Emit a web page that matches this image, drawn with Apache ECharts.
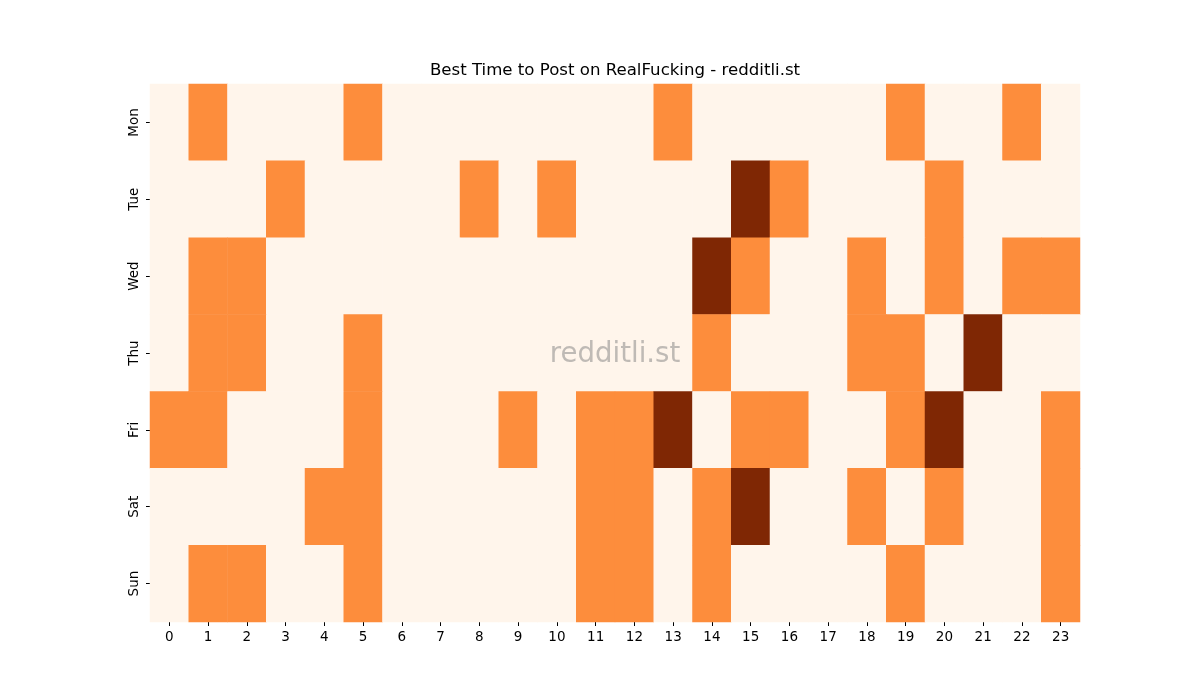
<!DOCTYPE html>
<html>
<head>
<meta charset="utf-8">
<title>Best Time to Post</title>
<script src="https://cdn.jsdelivr.net/npm/echarts@6/dist/echarts.min.js"></script>
<style>
  html, body { margin: 0; padding: 0; background: #fff; }
  #chart { width: 1200px; height: 700px; }
</style>
</head>
<body>
<div id="chart"></div>
<script>
  // rows / columns
  var days = ['Mon', 'Tue', 'Wed', 'Thu', 'Fri', 'Sat', 'Sun'];
  var hours = ['0','1','2','3','4','5','6','7','8','9','10','11','12','13','14','15','16','17','18','19','20','21','22','23'];

  // activity level per hour (0 = low, 1 = mid, 2 = high)
  var mon = [0,1,0,0,0,1,0,0,0,0,0,0,0,1,0,0,0,0,0,1,0,0,1,0];
  var tue = [0,0,0,1,0,0,0,0,1,0,1,0,0,0,0,2,1,0,0,0,1,0,0,0];
  var wed = [0,1,1,0,0,0,0,0,0,0,0,0,0,0,2,1,0,0,1,0,1,0,1,1];
  var thu = [0,1,1,0,0,1,0,0,0,0,0,0,0,0,1,0,0,0,1,1,0,2,0,0];
  var fri = [1,1,0,0,0,1,0,0,0,1,0,1,1,2,0,1,1,0,0,1,2,0,0,1];
  var sat = [0,0,0,0,1,1,0,0,0,0,0,1,1,0,1,2,0,0,1,0,1,0,0,1];
  var sun = [0,1,1,0,0,1,0,0,0,0,0,1,1,0,1,0,0,0,0,1,0,0,0,1];

  var rows = [mon, tue, wed, thu, fri, sat, sun];
  var cells = [];
  rows.forEach(function (row, d) {
    row.forEach(function (v, h) {
      cells.push([h, d, v]);
    });
  });

  var font = 'DejaVu Sans';
  var chart = echarts.init(document.getElementById('chart'));
  chart.setOption({
    animation: false,
    textStyle: { fontFamily: font },
    grid: { left: 150, right: 120, top: 84, bottom: 78 },
    xAxis: {
      type: 'category',
      data: hours,
      axisLine: { show: false },
      axisTick: { show: true, alignWithLabel: true, length: 4, lineStyle: { color: '#000' } },
      axisLabel: { color: '#000', fontSize: 13.5, margin: 8, fontFamily: font },
      splitLine: { show: false }
    },
    yAxis: {
      type: 'category',
      data: days,
      inverse: true,
      axisLine: { show: false },
      axisTick: { show: true, alignWithLabel: true, length: 4, lineStyle: { color: '#000' } },
      axisLabel: { color: '#000', fontSize: 13.5, rotate: 90, margin: 9, fontFamily: font },
      splitLine: { show: false }
    },
    visualMap: {
      type: 'piecewise',
      show: false,
      dimension: 2,
      pieces: [
        { value: 0, color: '#fff5eb' },
        { value: 1, color: '#fd8d3c' },
        { value: 2, color: '#7f2704' }
      ]
    },
    graphic: [{
      type: 'text',
      x: 615,
      y: 71,
      style: {
        text: 'Best Time to Post on RealFucking - redditli.st',
        fontSize: 16.6,
        fontFamily: font,
        fill: '#000',
        textAlign: 'center',
        textVerticalAlign: 'middle'
      }
    }, {
      type: 'text',
      x: 615,
      y: 355,
      z: 100,
      style: {
        text: 'redditli.st',
        fontSize: 27.6,
        fontFamily: font,
        fill: 'rgba(128,128,128,0.5)',
        textAlign: 'center',
        textVerticalAlign: 'middle'
      }
    }],
    series: [{
      type: 'heatmap',
      data: cells,
      itemStyle: { borderWidth: 0 },
      emphasis: { disabled: true }
    }]
  });
</script>
</body>
</html>
